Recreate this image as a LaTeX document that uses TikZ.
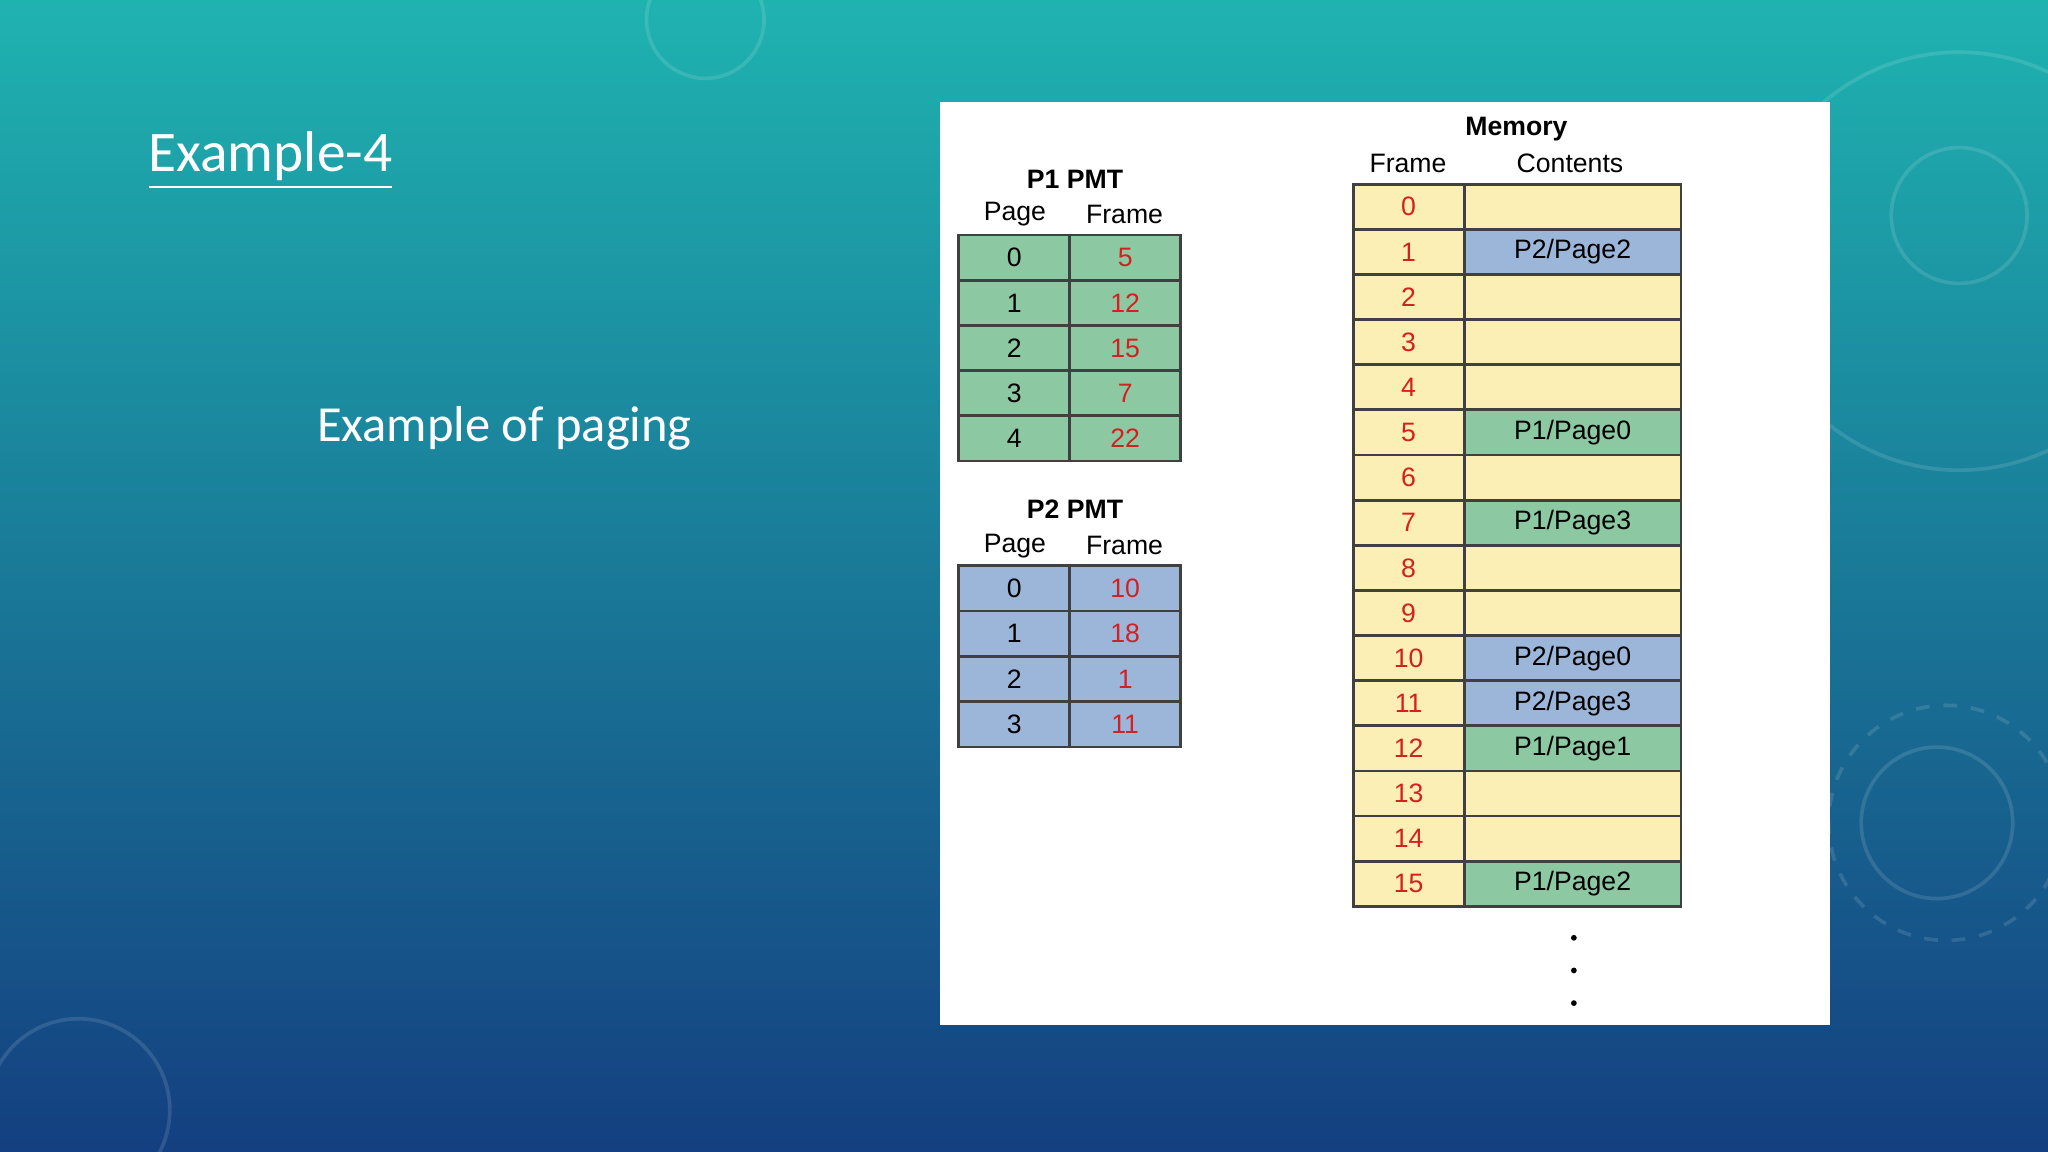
\documentclass[tikz,border=0pt]{standalone}
\usepackage{fontspec}
\setmainfont{Carlito}
\newfontfamily\tabfont{Liberation Sans}
\definecolor{bgtop}{HTML}{1FB3B0}
\definecolor{bgmid}{HTML}{137E9E}
\definecolor{bgbot}{HTML}{143F80}
\definecolor{pgreen}{HTML}{8CC9A2}
\definecolor{pblue}{HTML}{9CB6DA}
\definecolor{pyellow}{HTML}{FCEFB6}
\definecolor{nred}{HTML}{D42020}
\begin{document}
\begin{tikzpicture}[x=0.01cm,y=-0.01cm,
  cell/.style={draw=black!75,line width=0.6pt},
  tt/.style={font=\tabfont\fontsize{5.8}{7}\selectfont,inner sep=0pt},
  ttb/.style={font=\tabfont\bfseries\fontsize{5.8}{7}\selectfont,inner sep=0pt},
  deco/.style={draw=white,opacity=0.12,line width=0.8pt}]
\useasboundingbox (0,0) rectangle (1568,882);
\shade[top color=bgtop,middle color=bgmid,bottom color=bgbot] (0,0) rectangle (1568,882);
% decorative arcs
\draw[deco] (1500,165) circle (52);
\draw[deco] (1483,630) circle (58);
\draw[deco] (60,850) circle (70);
\draw[deco] (540,15) circle (45);
\draw[deco,dashed] (1490,630) circle (90);
\draw[deco] (1500,200) circle (160);
% titles
\node[text=white,anchor=west,inner sep=0pt,font=\fontsize{12.5}{15}\selectfont] (title) at (113,123) {\underline{Example-4}};
\node[text=white,anchor=west,inner sep=0pt,font=\fontsize{11}{13}\selectfont] (sub) at (242,328) {Example of paging};
% panel
\fill[white] (720,78) rectangle (1401,785);
% P1 PMT
\node[ttb] (p1t) at (823,137) {P1 PMT};
\node[tt] (p1h1) at (777,164) {Page};
\node[tt] (p1h2) at (861,164) {Frame};
\foreach \p/\f [count=\i from 0] in {0/5,1/12,2/15,3/7,4/22}{
  \pgfmathsetmacro\ya{180+34.6*\i}\pgfmathsetmacro\yb{180+34.6*(\i+1)}
  \filldraw[cell,fill=pgreen] (734,\ya) rectangle (819,\yb);
  \filldraw[cell,fill=pgreen] (819,\ya) rectangle (904,\yb);
  \node[tt] (p1p\i) at (776.5,{(\ya+\yb)/2}) {\p};
  \node[tt,text=nred] (p1f\i) at (861.5,{(\ya+\yb)/2}) {\f};
}
% P2 PMT
\node[ttb] (p2t) at (823,390) {P2 PMT};
\node[tt] (p2h1) at (777,418) {Page};
\node[tt] (p2h2) at (861,418) {Frame};
\foreach \p/\f [count=\i from 0] in {0/10,1/18,2/1,3/11}{
  \pgfmathsetmacro\ya{433+34.75*\i}\pgfmathsetmacro\yb{433+34.75*(\i+1)}
  \filldraw[cell,fill=pblue] (734,\ya) rectangle (819,\yb);
  \filldraw[cell,fill=pblue] (819,\ya) rectangle (904,\yb);
  \node[tt] (p2p\i) at (776.5,{(\ya+\yb)/2}) {\p};
  \node[tt,text=nred] (p2f\i) at (861.5,{(\ya+\yb)/2}) {\f};
}
% Memory
\node[ttb] (mt) at (1161,99) {Memory};
\node[tt] (mh1) at (1078,125) {Frame};
\node[tt] (mh2) at (1202,125) {Contents};
\foreach \c/\t [count=\i from 0] in {pyellow/{},pblue/{P2/Page2},pyellow/{},pyellow/{},pyellow/{},pgreen/{P1/Page0},pyellow/{},pgreen/{P1/Page3},pyellow/{},pyellow/{},pblue/{P2/Page0},pblue/{P2/Page3},pgreen/{P1/Page1},pyellow/{},pyellow/{},pgreen/{P1/Page2}}{
  \pgfmathsetmacro\ya{141+34.56*\i}\pgfmathsetmacro\yb{141+34.56*(\i+1)}
  \filldraw[cell,fill=pyellow] (1036,\ya) rectangle (1121,\yb);
  \filldraw[cell,fill=\c] (1121,\ya) rectangle (1287,\yb);
  \node[tt,text=nred] (mf\i) at (1078.5,{(\ya+\yb)/2}) {\i};
  \node[tt] (mc\i) at (1204,{(\ya+\yb)/2}) {\t};
}
\foreach \y [count=\j] in {718,743,768}{\fill (1205,\y) circle (2.2);}
\end{tikzpicture}
\end{document}
